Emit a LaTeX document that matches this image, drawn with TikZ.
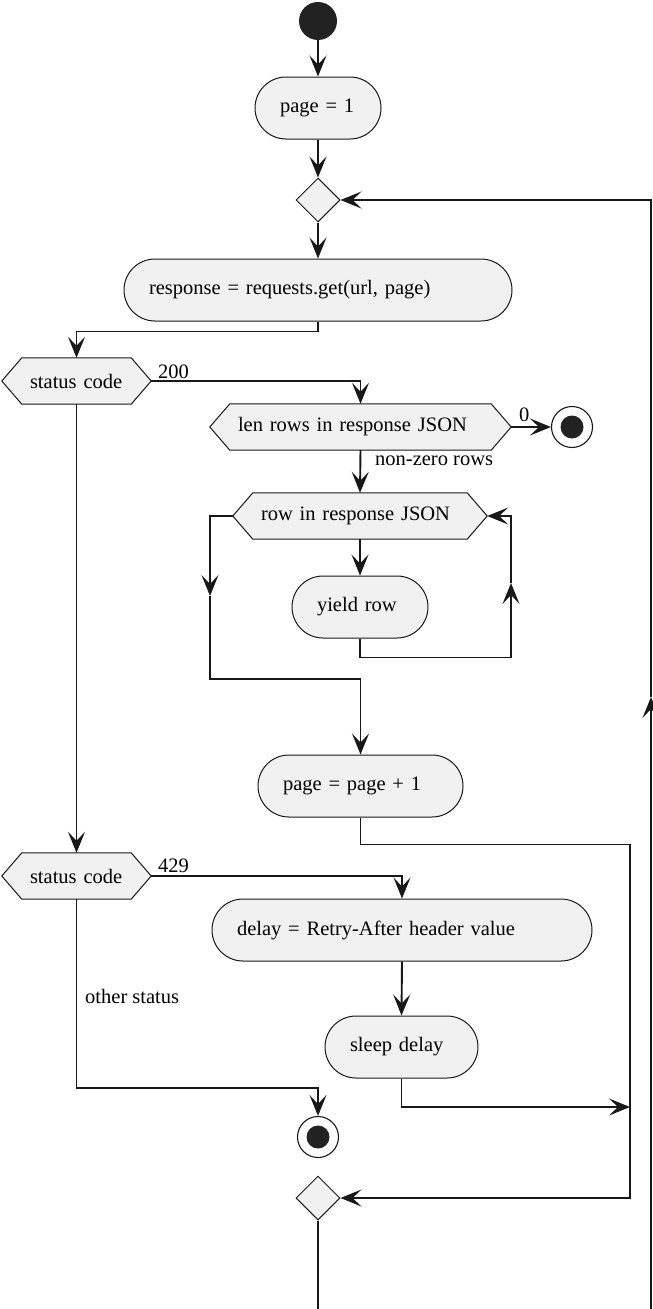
\documentclass[tikz,border=0pt]{standalone}
\usepackage{fontspec}
\setmainfont{Liberation Serif}
\usetikzlibrary{arrows.meta,shapes.geometric,backgrounds}
\definecolor{boxfill}{HTML}{F1F1F1}
\definecolor{edge}{HTML}{181818}
\definecolor{dot}{HTML}{222222}
\tikzset{
  base/.style={font=\fontsize{20.5}{24}\selectfont, text=black},
  act/.style={base, draw=edge, fill=boxfill, line width=1pt, rounded corners=31pt,
    minimum height=62pt, inner xsep=25pt, inner ysep=0pt, align=left},
  hexbox/.style={base, minimum height=46pt, inner xsep=28pt, inner ysep=0pt, align=left},
  hexline/.style={draw=edge, fill=boxfill, line width=1pt},
  merge/.style={diamond, draw=edge, fill=boxfill, line width=1pt,
    minimum width=44pt, minimum height=44pt, inner sep=0pt},
  startdot/.style={circle, fill=dot, minimum size=38pt, inner sep=0pt},
  stopdot/.style={circle, draw=edge, fill=white, line width=1.1pt, minimum size=41pt, inner sep=0pt,
    path picture={\fill[dot] (path picture bounding box.center) circle (11.5pt);}},
  lbl/.style={base, inner sep=0pt, anchor=base west},
  wire/.style={draw=edge, line width=1.9pt},
  flow/.style={wire, -{Stealth[length=21pt,width=17pt,inset=9pt]}},
}
\begin{document}
\begin{tikzpicture}[x=1pt,y=-1pt]
\useasboundingbox (0,0) rectangle (653,1309);

% activities, decisions and terminals
\node[startdot] (start) at (318,21) {};
\node[act, text width=76pt] (p1) at (318,108) {page = 1};
\node[merge] (m1) at (318,200) {};
\node[act, text width=338pt] (resp) at (318,290) {response = requests.get(url, page)};
\node[hexbox, text width=93pt] (sc1) at (76.5,381) {status code};
\node[hexbox, text width=245pt] (len) at (360.5,427) {len rows in response JSON};
\node[stopdot] (end1) at (572,427) {};
\node[hexbox, text width=198pt] (row) at (360,516) {row in response JSON};
\node[act, text width=86pt] (yield) at (360,607) {yield row};
\node[act, text width=155pt] (inc) at (360.5,786) {page = page + 1};
\node[hexbox, text width=93pt] (sc2) at (76.5,876) {status code};
\node[act, text width=330pt] (delay) at (402,930) {delay = Retry-After header value};
\node[act, text width=103pt] (sleep) at (401.5,1047) {sleep delay};
\node[stopdot] (end2) at (318,1137) {};
\node[merge] (m2) at (318,1198) {};

% hexagonal outlines behind the decision texts
\begin{scope}[on background layer]
  \foreach \h in {sc1,len,row,sc2} {
    \path[hexline] (\h.west) -- ([xshift=20pt]\h.north west) -- ([xshift=-20pt]\h.north east)
      -- (\h.east) -- ([xshift=-20pt]\h.south east) -- ([xshift=20pt]\h.south west) -- cycle;
  }
\end{scope}

% connectors
\draw[flow] (start.south) -- (p1.north);
\draw[flow] (p1.south) -- (m1.north);
\draw[flow] (m1.south) -- (resp.north);
\draw[flow] (resp.south) -- ++(0,10) -| (sc1.north);
\draw[flow] (sc1.east) -| (len.north);
\draw[flow] (len.east) -- (end1.west);
\draw[flow] (len.south) -- (row.north);
\draw[flow] (row.south) -- (yield.north);
\coordinate (upmark) at (511,583);
\draw[flow] (yield.south) -- ++(0,19) -| (upmark);
\draw[flow] (upmark) |- (row.east);
\coordinate (downmark) at (210,596);
\draw[flow] (row.west) -| (downmark);
\draw[flow] (downmark) -- (210,679) -| (inc.north);
\coordinate (joinA) at (630,1198);
\draw[flow] (inc.south) -- ++(0,27) -| (joinA) -- (m2.east);
\draw[flow] (sc1.south) -- (sc2.north);
\draw[flow] (sc2.east) -| (delay.north);
\draw[flow] (delay.south) -- (sleep.north);
\coordinate (joinB) at (630,1107);
\draw[flow] (sleep.south) |- (joinB);
\draw[flow] (sc2.south) -- ++(0,189) -| (end2.north);
\coordinate (backmark) at (651,697);
\draw[flow] (m2.south) -- (318,1309.6) -| (backmark);
\draw[flow] (backmark) |- (m1.east);

% branch labels
\node[lbl] (l200) at (158,378) {200};
\node[lbl] (l0) at (519,421.5) {0};
\node[lbl] (lnz) at (375,465) {non-zero rows};
\node[lbl] (l429) at (158,872) {429};
\node[lbl] (lother) at (85,1003) {other status};
\end{tikzpicture}
\end{document}
